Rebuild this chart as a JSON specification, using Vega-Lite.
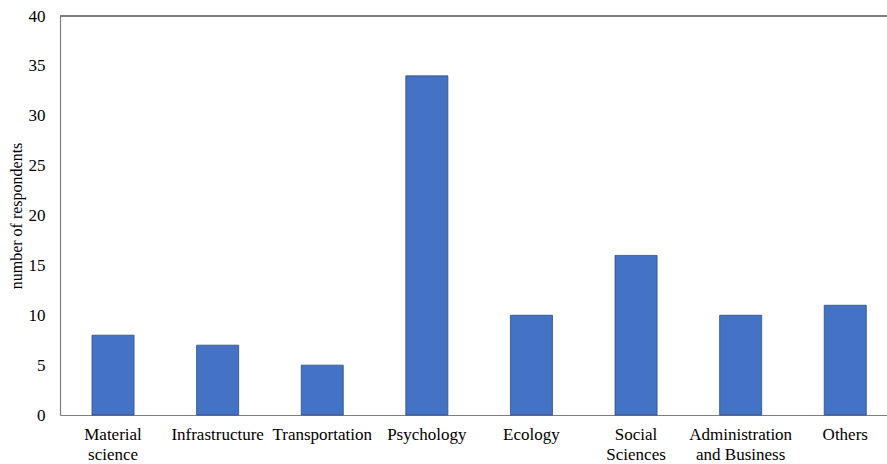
{
  "$schema": "https://vega.github.io/schema/vega-lite/v6.json",
  "width": 827,
  "height": 399,
  "autosize": {"type": "none"},
  "padding": {"left": 60, "top": 16, "right": 0, "bottom": 49},
  "background": "white",
  "config": {
    "view": {"stroke": null},
    "font": "Liberation Serif"
  },
  "data": {
    "values": [
      {"field": "Material|science", "count": 8},
      {"field": "Infrastructure", "count": 7},
      {"field": "Transportation", "count": 5},
      {"field": "Psychology", "count": 34},
      {"field": "Ecology", "count": 10},
      {"field": "Social|Sciences", "count": 16},
      {"field": "Administration|and Business", "count": 10},
      {"field": "Others", "count": 11}
    ]
  },
  "layer": [
    {
      "mark": {"type": "bar", "color": "#4472C4", "stroke": "#2F4F80", "strokeWidth": 0.8},
      "encoding": {
        "x": {
          "field": "field",
          "type": "nominal",
          "sort": null,
          "scale": {"paddingInner": 0.598, "paddingOuter": 0.252, "align": 0.607},
          "axis": {
            "title": null,
            "labelAngle": 0,
            "labelExpr": "split(datum.value, '|')",
            "labelFont": "Liberation Serif",
            "labelFontSize": 17,
            "labelColor": "#000000",
            "labelPadding": 11,
            "labelLineHeight": 20,
            "ticks": false,
            "domainColor": "#7F7F7F",
            "domainWidth": 1.2
          }
        },
        "y": {
          "field": "count",
          "type": "quantitative",
          "scale": {"domain": [0, 40], "nice": false},
          "axis": {
            "title": "number of respondents",
            "titleFont": "Liberation Serif",
            "titleFontSize": 16,
            "titleFontWeight": "normal",
            "titleColor": "#000000",
            "titlePadding": 4,
            "values": [0, 5, 10, 15, 20, 25, 30, 35, 40],
            "labelFont": "Liberation Serif",
            "labelFontSize": 17,
            "labelColor": "#000000",
            "labelPadding": 15,
            "ticks": false,
            "grid": false,
            "domainColor": "#7F7F7F",
            "domainWidth": 1.2
          }
        }
      }
    },
    {
      "mark": {"type": "rule", "color": "#7F7F7F", "strokeWidth": 1.5},
      "encoding": {"y": {"datum": 40}}
    }
  ]
}
